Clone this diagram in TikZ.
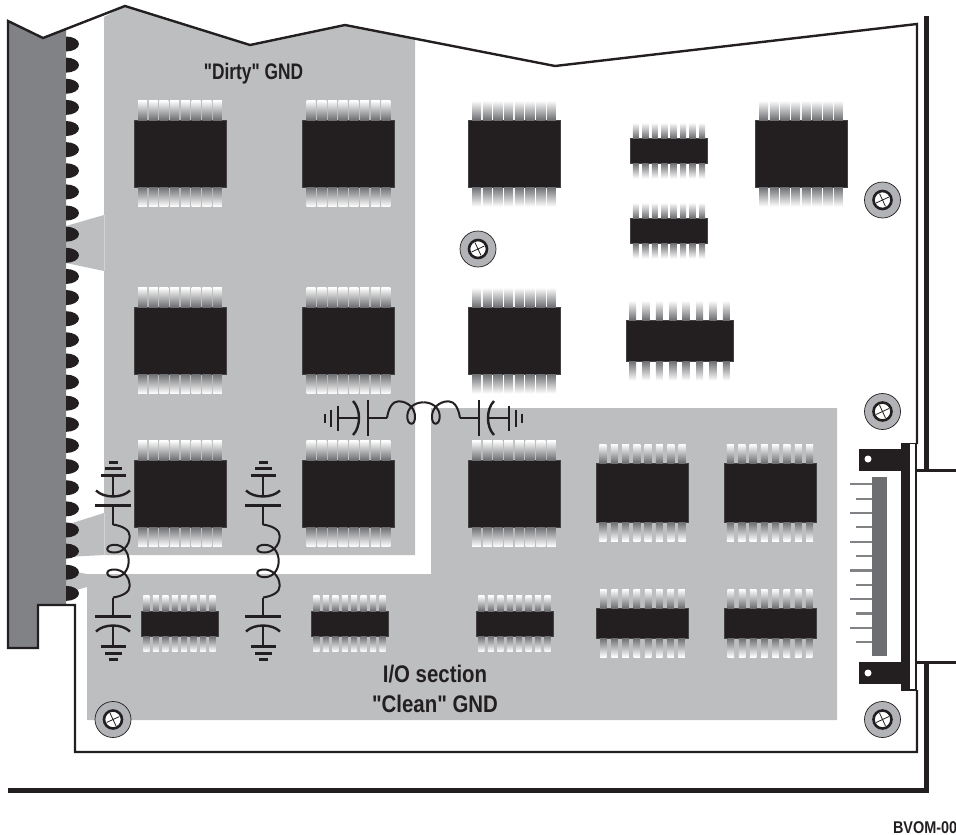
\documentclass[tikz,border=0pt]{standalone}
\usepackage{fontspec}
\setmainfont{Liberation Sans}[FakeStretch=0.77,Ligatures=TeXOff]
\newfontfamily\wideface{Liberation Sans}[FakeStretch=0.85,Ligatures=TeXOff]
\usetikzlibrary{calc}
\definecolor{chipblack}{HTML}{231F20}
\definecolor{planegray}{HTML}{BCBEC0}
\definecolor{edgegray}{HTML}{808285}
\definecolor{leadgray}{HTML}{6D6E71}
\definecolor{screwgray}{HTML}{B1B3B6}

\newcommand{\chipleads}[4]{% node, pitch, lead width, lead length
  \foreach \n in {-3.5,-2.5,...,3.5}{
    \shade[top color=white,middle color=leadgray!72!white,bottom color=leadgray] ($(#1.north)+({\n*#2-#3/2},-#4)$) rectangle ++(#3,#4);
    \shade[top color=leadgray,middle color=leadgray!72!white,bottom color=white] ($(#1.south)+({\n*#2-#3/2},0)$) rectangle ++(#3,#4);
  }}

\begin{document}
\begin{tikzpicture}[x=1pt,y=-1pt,inner sep=0pt,outer sep=0pt]
  \tikzset{chip/.style={shape=rectangle,fill=chipblack,draw=chipblack!85!white,line width=0.5pt}}
  \tikzset{largechip/.style={chip,minimum width=92pt,minimum height=67pt}}
  \tikzset{medchip/.style={chip,minimum width=92pt,minimum height=59pt}}
  \tikzset{lowchip/.style={chip,minimum width=92pt,minimum height=30pt}}
  \tikzset{smallchip/.style={chip,minimum width=77pt,minimum height=25pt}}
  \tikzset{widechip/.style={chip,minimum width=107pt,minimum height=41pt}}
  \tikzset{wire/.style={draw=chipblack,line width=2.4pt}}
  \tikzset{outline/.style={draw=chipblack,line width=2.4pt,line join=miter}}
  \tikzset{heavy/.style={draw=chipblack,line width=5pt}}
  \tikzset{pinlong/.style={draw=edgegray,line width=2.2pt}}
  \tikzset{caption/.style={font=\bfseries\fontsize{22.5}{26}\selectfont,text=chipblack,anchor=base}}
  \tikzset{widecaption/.style={font=\wideface\bfseries\fontsize{24}{28}\selectfont,text=chipblack,anchor=base}}
  \tikzset{pics/lcfilter/.style={code={
    \foreach \s in {-1,1}{
      \draw[wire] (\s*98.5,-4.5) -- (\s*98.5,4.5);
      \draw[wire] (\s*92.5,-8.5) -- (\s*92.5,8.5);
      \draw[wire] (\s*85.5,-12.5) -- (\s*85.5,12.5);
      \draw[wire] (\s*85.5,0) -- (\s*64.5,0);
      \draw[wire] (\s*70.5,-17) .. controls (\s*62.5,-9) and (\s*62.5,9) .. (\s*70.5,17);
      \draw[wire] (\s*55.5,-18) -- (\s*55.5,18);
      \draw[wire] (\s*55.5,0) -- (\s*36.5,0);
      \draw[wire,line width=2pt] (\s*36.5,0) .. controls (\s*35,-10) and (\s*31,-16.7) .. (\s*25,-16.7)
        .. controls (\s*15,-16.7) and (\s*8.5,-9) .. (\s*8.5,-1.7)
        .. controls (\s*8.5,2.5) and (\s*9.5,5.7) .. (\s*12,5.7)
        .. controls (\s*15,5.7) and (\s*16.2,2) .. (\s*16.2,-1.7)
        .. controls (\s*16.2,-10) and (\s*9,-15.7) .. (0,-15.7);
    }
  }}}
  \tikzset{pics/screw/.style={code={
    \draw[fill=screwgray,draw=chipblack,line width=0.7pt] (0,0) circle (18pt);
    \draw[fill=white,draw=chipblack,line width=2.6pt] (0,0) circle (9pt);
    \draw[chipblack,line width=0.8pt,rotate=25] (-7,0) -- (7,0) (0,-7) -- (0,7);
  }}}

  \clip (0,0) rectangle (956,835);

  % ground planes
  \fill[planegray] (104,17) -- (125,6) -- (250,45) -- (345,25) -- (415,38.5) -- (415,555) -- (104,555) -- (104,513) -- (66,525) -- (66,557) -- (104,555) -- (104,271) -- (66,263) -- (66,226) -- (104,215) -- cycle;
  \fill[planegray] (87,574) -- (431,574) -- (431,408) -- (837,408) -- (837,720) -- (87,720) -- (87,587) -- (66,593) -- (66,570) -- cycle;
  \draw[planegray!70!white,line width=0.6pt] (104,215) -- (104,271) (104,513) -- (104,555);

  % edge connector and board
  \fill[edgegray] (8,21) -- (43,38) -- (66,29) -- (66,605) -- (38,605) -- (38,648) -- (8,648) -- cycle;
  \draw[outline] (917,444) -- (917,24) -- (555,66) -- (345,25) -- (250,45) -- (125,6) -- (43,38) -- (8,21) -- (8,648) -- (38,648) -- (38,605) -- (75,605) -- (75,752) -- (917,752) -- (917,690);
  \draw[heavy] (926,16) -- (926,471);
  \draw[heavy] (926,662) -- (926,790.5) -- (8,790.5);
  \draw[outline] (916,470.5) -- (956,470.5);
  \draw[outline] (916,662.5) -- (956,662.5);
  \foreach \y in {0,...,26}{
    \fill[chipblack] (66,44+\y*21.13-7.5) arc [start angle=90,end angle=-90,x radius=13pt,y radius=7.5pt] -- cycle;
  }

  % chips
  \node [largechip] (dirtyA) at (180,153.5) {};
  \node [largechip] (dirtyB) at (348.5,153.5) {};
  \node [largechip] (logicA) at (514,153.5) {};
  \node [largechip] (logicB) at (801,153.5) {};
  \node [largechip] (dirtyC) at (180,340.5) {};
  \node [largechip] (dirtyD) at (348.5,340.5) {};
  \node [largechip] (logicC) at (514,340.5) {};
  \node [largechip] (dirtyE) at (180,493.5) {};
  \node [largechip] (dirtyF) at (348.5,493.5) {};
  \node [largechip] (cleanA) at (514,493.5) {};
  \node [medchip] (cleanB) at (642.5,492.5) {};
  \node [medchip] (cleanC) at (770,492.5) {};
  \node [lowchip] (cleanD) at (642.5,623) {};
  \node [lowchip] (cleanE) at (770,623) {};
  \node [smallchip] (cleanF) at (179.5,623.5) {};
  \node [smallchip] (cleanG) at (349.5,623.5) {};
  \node [smallchip] (cleanH) at (514.5,623.5) {};
  \node [smallchip] (logicD) at (669,150.5) {};
  \node [smallchip] (logicE) at (669,230.5) {};
  \node [widechip] (logicF) at (679.5,340.5) {};
  \foreach \name in {dirtyA,dirtyB,dirtyC,dirtyD,dirtyE,dirtyF,logicA,logicB,logicC,cleanA}{\chipleads{\name}{10.7}{9}{19.5}}
  \foreach \name in {cleanB,cleanC}{\chipleads{\name}{11.3}{7}{19}}
  \foreach \name in {cleanD,cleanE}{\chipleads{\name}{11.2}{6.5}{19}}
  \foreach \name in {cleanF,cleanG,cleanH,logicD,logicE}{\chipleads{\name}{9.45}{6}{15.5}}
  \chipleads{logicF}{13.4}{7}{19.5}

  % filters
  \pic (filterA) at (113,561) [rotate=-90] {lcfilter};
  \pic (filterB) at (263,561) [rotate=-90] {lcfilter};
  \pic (filterC) at (423.5,418) {lcfilter};

  % screws
  \pic (screwA) at (882.5,200) {screw};
  \pic (screwB) at (478,249) {screw};
  \pic (screwC) at (882.5,411.5) {screw};
  \pic (screwD) at (882.5,719.5) {screw};
  \pic (screwE) at (113,719.5) {screw};

  % cable connector
  \fill[leadgray] (872,477) rectangle (887,656);
  \foreach \i in {0,...,11}{
    \pgfmathsetmacro{\pinleft}{isodd(\i) ? 856 : 850}
    \draw[pinlong] (\pinleft,484.3+\i*14.36) -- (872,484.3+\i*14.36);
  }
  \fill[chipblack] (859,449) rectangle (902,471);
  \fill[chipblack] (859,662) rectangle (902,684);
  \fill[white] (868,459) circle (3.5pt);
  \fill[white] (868,673) circle (3.5pt);
  \fill[chipblack] (901,442.5) rectangle (909,691);
  \draw[fill=white,draw=chipblack,line width=1.6pt] (909,443.5) rectangle (916,690);

  % labels
  \node [caption] (dirtylabel) at (253.5,79) {"Dirty" GND};
  \node [widecaption] (iolabel) at (435,682) {I/O section};
  \node [widecaption] (cleanlabel) at (435,712) {"Clean" GND};
  \node [font=\wideface\bfseries\fontsize{17}{20}\selectfont,text=chipblack,anchor=base west] (figlabel) at (893,833) {BVOM-00};
\end{tikzpicture}
\end{document}
